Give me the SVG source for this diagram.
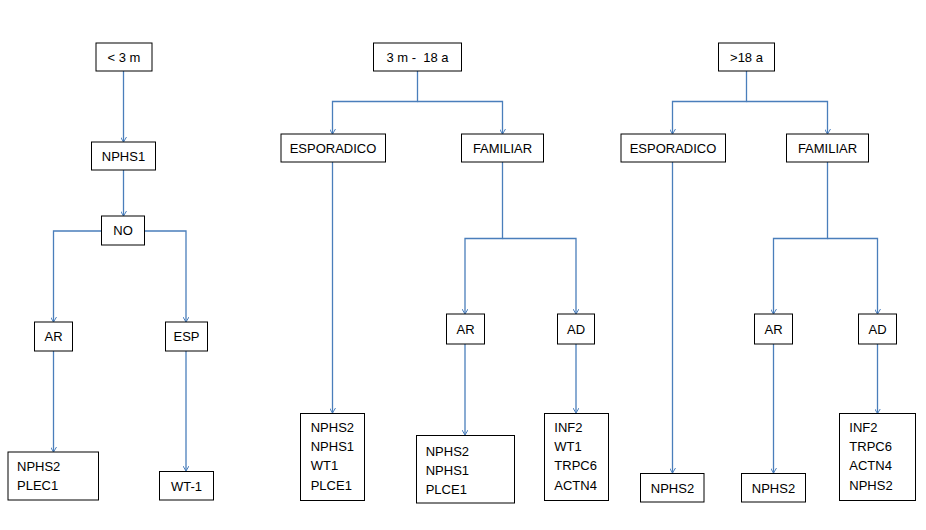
<svg xmlns="http://www.w3.org/2000/svg" width="926" height="530" viewBox="0 0 926 530">
<style>
.box{fill:#fff;stroke:#000;stroke-width:1}
.t{font-family:"Liberation Sans",Arial,sans-serif;font-size:13px;fill:#000}
.c{text-anchor:middle}
.ln{fill:none;stroke:#4A7EBB;stroke-width:1.3}
</style>
<defs>
<marker id="ah" viewBox="0 0 5 6" refX="5" refY="3" markerWidth="5" markerHeight="6" markerUnits="userSpaceOnUse" orient="auto">
<path d="M0,0 L5,3 L0,6" fill="none" stroke="#4A7EBB" stroke-width="1"/>
</marker>
</defs>
<rect width="926" height="530" fill="#fff"/>
<g id="connectors">
<path class="ln" d="M123.5,71 V142" marker-end="url(#ah)"/>
<path class="ln" d="M123.5,170 V216" marker-end="url(#ah)"/>
<path class="ln" d="M101,231 H53.5 V322" marker-end="url(#ah)"/>
<path class="ln" d="M144,231 H186 V322" marker-end="url(#ah)"/>
<path class="ln" d="M53.5,351 V452" marker-end="url(#ah)"/>
<path class="ln" d="M186,351 V471" marker-end="url(#ah)"/>
<path class="ln" d="M417.5,71 V101.5 H332.5 V134" marker-end="url(#ah)"/>
<path class="ln" d="M417.5,101.5 H502.5 V134" marker-end="url(#ah)"/>
<path class="ln" d="M332.5,162 V413" marker-end="url(#ah)"/>
<path class="ln" d="M502.5,162 V238.5 H465 V314" marker-end="url(#ah)"/>
<path class="ln" d="M502.5,238.5 H576 V314" marker-end="url(#ah)"/>
<path class="ln" d="M465,344 V435" marker-end="url(#ah)"/>
<path class="ln" d="M576,344 V413" marker-end="url(#ah)"/>
<path class="ln" d="M746.5,71 V101.5 H672.5 V134" marker-end="url(#ah)"/>
<path class="ln" d="M746.5,101.5 H827.5 V134" marker-end="url(#ah)"/>
<path class="ln" d="M672.5,162 V473" marker-end="url(#ah)"/>
<path class="ln" d="M827.5,162 V238.5 H773.5 V314" marker-end="url(#ah)"/>
<path class="ln" d="M827.5,238.5 H877.5 V314" marker-end="url(#ah)"/>
<path class="ln" d="M773.5,344 V473" marker-end="url(#ah)"/>
<path class="ln" d="M877.5,344 V413.5" marker-end="url(#ah)"/>
</g>
<g id="n_lt3m"><rect class="box" x="96" y="43" width="56" height="28"/><text class="t c" x="124" y="61.5">&lt; 3 m</text></g>
<g id="n_nphs1"><rect class="box" x="91.5" y="142" width="64" height="28"/><text class="t c" x="123.5" y="160.5">NPHS1</text></g>
<g id="n_no"><rect class="box" x="101.5" y="216" width="43" height="29"/><text class="t c" x="123" y="235">NO</text></g>
<g id="n_ar1"><rect class="box" x="34.5" y="322" width="38" height="29"/><text class="t c" x="53.5" y="341">AR</text></g>
<g id="n_esp1"><rect class="box" x="165.5" y="322" width="42" height="29"/><text class="t c" x="186.5" y="341">ESP</text></g>
<g id="n_res1"><rect class="box" x="8" y="452" width="90.5" height="48"/><text class="t" x="17" y="470.7">NPHS2</text><text class="t" x="17" y="490">PLEC1</text></g>
<g id="n_wt1"><rect class="box" x="159.5" y="471.5" width="54" height="28.5"/><text class="t c" x="186.5" y="490.5">WT-1</text></g>
<g id="n_3m18a"><rect class="box" x="373.5" y="43" width="88" height="28"/><text class="t c" x="417.5" y="61.5" xml:space="preserve">3 m -  18 a</text></g>
<g id="n_esp2"><rect class="box" x="281" y="134" width="104.5" height="28"/><text class="t c" x="333" y="152.5">ESPORADICO</text></g>
<g id="n_fam2"><rect class="box" x="461.5" y="134" width="82" height="28"/><text class="t c" x="502.5" y="152.5">FAMILIAR</text></g>
<g id="n_ar2"><rect class="box" x="446.5" y="314" width="38" height="30"/><text class="t c" x="465.5" y="333.5">AR</text></g>
<g id="n_ad2"><rect class="box" x="557.5" y="314" width="37" height="30"/><text class="t c" x="576" y="333.5">AD</text></g>
<g id="n_res2"><rect class="box" x="300.5" y="413.5" width="64" height="87"/><text class="t" x="310.7" y="431.7">NPHS2</text><text class="t" x="310.7" y="451">NPHS1</text><text class="t" x="310.7" y="470.3">WT1</text><text class="t" x="310.7" y="489.7">PLCE1</text></g>
<g id="n_res3"><rect class="box" x="416.5" y="435.5" width="98" height="67.5"/><text class="t" x="425.7" y="455.7">NPHS2</text><text class="t" x="425.7" y="475">NPHS1</text><text class="t" x="425.7" y="494.3">PLCE1</text></g>
<g id="n_res4"><rect class="box" x="544.5" y="413.5" width="64" height="87"/><text class="t" x="554.3" y="431.7">INF2</text><text class="t" x="554.3" y="451">WT1</text><text class="t" x="554.3" y="470.3">TRPC6</text><text class="t" x="554.3" y="489.7">ACTN4</text></g>
<g id="n_gt18a"><rect class="box" x="718.5" y="43" width="56" height="28"/><text class="t c" x="746.5" y="61.5">&gt;18 a</text></g>
<g id="n_esp3"><rect class="box" x="621" y="134" width="104.5" height="28"/><text class="t c" x="673" y="152.5">ESPORADICO</text></g>
<g id="n_fam3"><rect class="box" x="786.5" y="134" width="82" height="28"/><text class="t c" x="827.5" y="152.5">FAMILIAR</text></g>
<g id="n_ar3"><rect class="box" x="754.5" y="314" width="38" height="30"/><text class="t c" x="773.5" y="333.5">AR</text></g>
<g id="n_ad3"><rect class="box" x="858.5" y="314" width="38" height="30"/><text class="t c" x="877.5" y="333.5">AD</text></g>
<g id="n_res5"><rect class="box" x="640.5" y="473.5" width="63.5" height="28.5"/><text class="t c" x="672.5" y="492.5">NPHS2</text></g>
<g id="n_res6"><rect class="box" x="741.5" y="473.5" width="64" height="28.5"/><text class="t c" x="773.5" y="492.5">NPHS2</text></g>
<g id="n_res7"><rect class="box" x="839.5" y="413.5" width="76" height="87"/><text class="t" x="849.3" y="431.7">INF2</text><text class="t" x="849.3" y="451">TRPC6</text><text class="t" x="849.3" y="470.3">ACTN4</text><text class="t" x="849.3" y="489.7">NPHS2</text></g>
</svg>
